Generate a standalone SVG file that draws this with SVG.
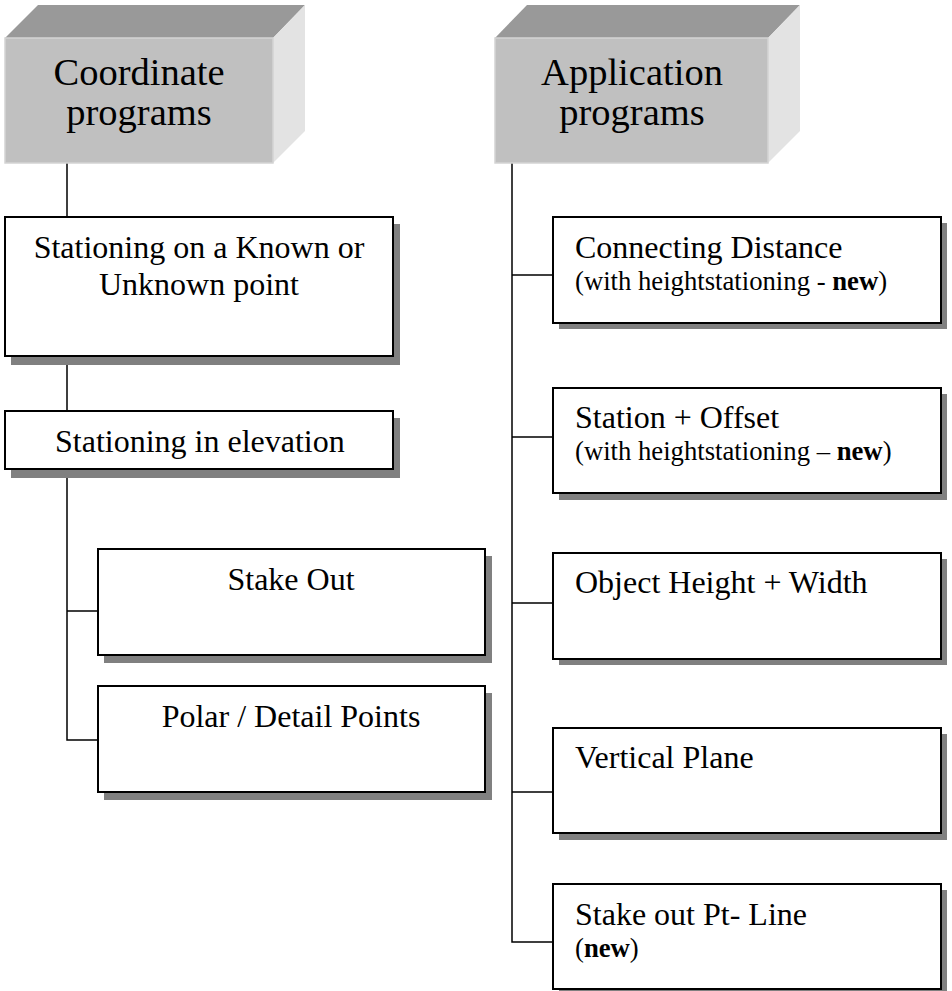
<svg xmlns="http://www.w3.org/2000/svg" width="952" height="991" viewBox="0 0 952 991">
<style>
.front{fill:#c0c0c0;stroke:#d4d4d4;stroke-width:1.5}
.top{fill:#999999}
.side{fill:#e3e3e3}
.shadow{fill:#808080}
.box{fill:#ffffff;stroke:#000000;stroke-width:2}
.conn{stroke:#000000;stroke-width:1.5;fill:none}
text{font-family:"Liberation Serif","Times New Roman",serif;fill:#000000}
.hd{font-size:38.5px;text-anchor:middle}
.t{font-size:32px}
.c{text-anchor:middle}
.s{font-size:26.7px}
.b{font-weight:bold}
</style>
<rect width="952" height="991" fill="#ffffff"/>
<g id="connectors">
<path class="conn" d="M67,163 V217 M67,356 V411 M67,469 V740 H98 M67,611 H98"/>
<path class="conn" d="M512,163 V942 H553 M512,275 H553 M512,437 H553 M512,603 H553 M512,792 H553"/>
</g>
<g id="coordinate-programs">
<polygon class="top" points="5,38 38,5 305,5 273,38"/>
<polygon class="side" points="273,38 305,5 305,131 273,163"/>
<rect class="front" x="5" y="38" width="268" height="125"/>
<text class="hd" x="139" y="85">Coordinate</text>
<text class="hd" x="139" y="125">programs</text>
</g>
<g id="application-programs">
<polygon class="top" points="495,38 527,5 800,5 768,38"/>
<polygon class="side" points="768,38 800,5 800,131 768,163"/>
<rect class="front" x="495" y="38" width="273" height="125"/>
<text class="hd" x="632" y="85">Application</text>
<text class="hd" x="632" y="125">programs</text>
</g>
<g id="stationing-known">
<rect class="shadow" x="11" y="224" width="389" height="141"/>
<rect class="box" x="5" y="217" width="388" height="139"/>
<text class="t c" x="199" y="258">Stationing on a Known or</text>
<text class="t c" x="199" y="295">Unknown point</text>
</g>
<g id="stationing-elevation">
<rect class="shadow" x="11" y="418" width="389" height="60"/>
<rect class="box" x="5" y="411" width="388" height="58"/>
<text class="t" x="55" y="452">Stationing in elevation</text>
</g>
<g id="stake-out">
<rect class="shadow" x="104" y="556" width="388" height="107"/>
<rect class="box" x="98" y="549" width="387" height="106"/>
<text class="t c" x="291" y="590">Stake Out</text>
</g>
<g id="polar-detail">
<rect class="shadow" x="104" y="693" width="388" height="107"/>
<rect class="box" x="98" y="686" width="387" height="106"/>
<text class="t c" x="291" y="727">Polar / Detail Points</text>
</g>
<g id="connecting-distance">
<rect class="shadow" x="559" y="223" width="388" height="106"/>
<rect class="box" x="553" y="217" width="388" height="106"/>
<text class="t" x="575" y="258">Connecting Distance</text>
<text class="s" x="575" y="290">(with heightstationing - <tspan class="b">new</tspan>)</text>
</g>
<g id="station-offset">
<rect class="shadow" x="559" y="394" width="388" height="106"/>
<rect class="box" x="553" y="388" width="388" height="105"/>
<text class="t" x="575" y="428">Station + Offset</text>
<text class="s" x="575" y="460">(with heightstationing – <tspan class="b">new</tspan>)</text>
</g>
<g id="object-height-width">
<rect class="shadow" x="559" y="559" width="388" height="106"/>
<rect class="box" x="553" y="553" width="388" height="106"/>
<text class="t" x="575" y="593">Object Height + Width</text>
</g>
<g id="vertical-plane">
<rect class="shadow" x="559" y="734" width="388" height="106"/>
<rect class="box" x="553" y="728" width="388" height="105"/>
<text class="t" x="575" y="768">Vertical Plane</text>
</g>
<g id="stake-out-pt-line">
<rect class="shadow" x="559" y="890" width="388" height="101"/>
<rect class="box" x="553" y="884" width="388" height="105"/>
<text class="t" x="575" y="925">Stake out Pt- Line</text>
<text class="s" x="575" y="957">(<tspan class="b">new</tspan>)</text>
</g>
</svg>
